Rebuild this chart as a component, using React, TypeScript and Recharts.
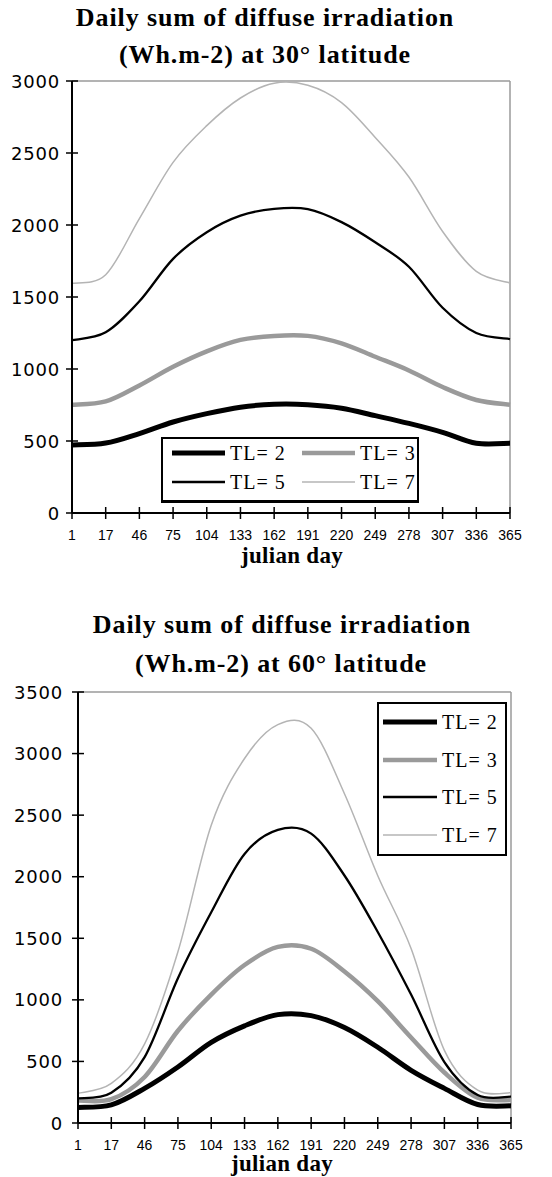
import React from 'react';
import { LineChart, Line, XAxis, YAxis, Legend, ReferenceLine } from 'recharts';

// ---- data ----
const days = ['1', '17', '46', '75', '104', '133', '162', '191', '220', '249', '278', '307', '336', '365'];
const seriesNames = ['TL= 2', 'TL= 3', 'TL= 5', 'TL= 7'];

const lat30TL2 = [472, 486, 552, 632, 690, 735, 755, 752, 728, 676, 622, 560, 484, 484];
const lat30TL3 = [752, 775, 886, 1016, 1123, 1202, 1230, 1230, 1178, 1085, 990, 875, 785, 752];
const lat30TL5 = [1200, 1255, 1470, 1765, 1950, 2065, 2112, 2110, 2020, 1880, 1710, 1425, 1250, 1208];
const lat30TL7 = [1595, 1655, 2045, 2435, 2690, 2882, 2985, 2970, 2850, 2608, 2333, 1955, 1678, 1598];

const lat60TL2 = [126, 147, 281, 455, 655, 789, 880, 872, 775, 615, 428, 281, 150, 139];
const lat60TL3 = [182, 193, 374, 749, 1043, 1283, 1430, 1415, 1230, 989, 695, 410, 205, 187];
const lat60TL5 = [200, 246, 535, 1176, 1711, 2185, 2380, 2350, 2010, 1551, 1043, 495, 227, 214];
const lat60TL7 = [241, 321, 642, 1390, 2418, 2960, 3235, 3205, 2674, 2008, 1417, 590, 267, 246];

const yTicks30 = [0, 500, 1000, 1500, 2000, 2500, 3000];
const yTicks60 = [0, 500, 1000, 1500, 2000, 2500, 3000, 3500];

const title30 = ['Daily sum of diffuse irradiation', '(Wh.m-2) at 30° latitude'];
const title60 = ['Daily sum of diffuse irradiation', '(Wh.m-2) at 60° latitude'];
const xTitle = 'julian day';

// ---- styles ----
const keys = ['tl2', 'tl3', 'tl5', 'tl7'];
const seriesStyle = [
  { stroke: '#000000', width: 5 },
  { stroke: '#9a9a9a', width: 4.5 },
  { stroke: '#000000', width: 2.3 },
  { stroke: '#b4b4b4', width: 1.5 },
];

const build = (a: number[], b: number[], c: number[], d: number[]) =>
  days.map((day, i) => ({ day, tl2: a[i], tl3: b[i], tl5: c[i], tl7: d[i] }));

const data30 = build(lat30TL2, lat30TL3, lat30TL5, lat30TL7);
const data60 = build(lat60TL2, lat60TL3, lat60TL5, lat60TL7);

// Excel-like smoothed line (Catmull-Rom through the points)
const smoothCurve = (context: any) => {
  let pts: number[][] = [];
  return {
    areaStart() {},
    areaEnd() {},
    lineStart() { pts = []; },
    lineEnd() {
      const n = pts.length;
      if (!n) return;
      context.moveTo(pts[0][0], pts[0][1]);
      for (let i = 0; i < n - 1; i++) {
        const p0 = pts[i - 1] || pts[i];
        const p1 = pts[i];
        const p2 = pts[i + 1];
        const p3 = pts[i + 2] || p2;
        context.bezierCurveTo(
          p1[0] + (p2[0] - p0[0]) / 6, p1[1] + (p2[1] - p0[1]) / 6,
          p2[0] - (p3[0] - p1[0]) / 6, p2[1] - (p3[1] - p1[1]) / 6,
          p2[0], p2[1]
        );
      }
    },
    point(x: number, y: number) { pts.push([+x, +y]); },
  };
};

const XTick = (props: any) => {
  const { x, y, payload } = props;
  return (
    <g>
      <line x1={x} x2={x} y1={y - 6} y2={y + 6} stroke="#000" strokeWidth={1.5} />
      <text x={x} y={y + 27} textAnchor="middle" fontFamily="Liberation Sans, Arial, sans-serif" fontSize={14} fill="#000">
        {payload.value}
      </text>
    </g>
  );
};

const makeYTick = (gap: number) => (props: any) => {
  const { x, y, payload } = props;
  return (
    <g>
      <line x1={x - 6} x2={x + 6} y1={y} y2={y} stroke="#000" strokeWidth={1.5} />
      <text x={x - gap} y={y + 6.5} textAnchor="end" fontFamily="DejaVu Sans, sans-serif" fontSize={18} letterSpacing={0.8} fill="#000">
        {payload.value}
      </text>
    </g>
  );
};

const Legend30 = () => {
  const pos = [
    { x: 9, y: 14 },
    { x: 139, y: 14 },
    { x: 9, y: 43 },
    { x: 139, y: 43 },
  ];
  return (
    <div style={{ width: 258, height: 66, border: '2px solid #000', borderBottomWidth: 3, boxSizing: 'border-box', background: '#fff' }}>
      <svg width={254} height={61} style={{ display: 'block' }}>
        {seriesNames.map((n, i) => (
          <g key={n}>
            <line x1={pos[i].x} x2={pos[i].x + 53} y1={pos[i].y} y2={pos[i].y} stroke={seriesStyle[i].stroke} strokeWidth={seriesStyle[i].width} />
            <text x={pos[i].x + 58} y={pos[i].y + 7} fontFamily="Liberation Serif, serif" fontSize={20} letterSpacing={1} fill="#000">{n}</text>
          </g>
        ))}
      </svg>
    </div>
  );
};

const Legend60 = () => {
  const ys = [18, 56, 93, 131];
  return (
    <div style={{ width: 130, height: 154, border: '2px solid #000', boxSizing: 'border-box', background: '#fff' }}>
      <svg width={126} height={150} style={{ display: 'block' }}>
        {seriesNames.map((n, i) => (
          <g key={n}>
            <line x1={4} x2={58} y1={ys[i]} y2={ys[i]} stroke={seriesStyle[i].stroke} strokeWidth={seriesStyle[i].width} />
            <text x={63} y={ys[i] + 7} fontFamily="Liberation Serif, serif" fontSize={20} letterSpacing={1} fill="#000">{n}</text>
          </g>
        ))}
      </svg>
    </div>
  );
};

const titleFont = { fontFamily: "'Liberation Serif', 'Times New Roman', serif", fontWeight: 700 as const };

export default function App() {
  return (
    <div style={{ position: 'absolute', left: 0, top: 0, width: 552, height: 1177, background: '#fff', overflow: 'hidden' }}>
      <div style={{ position: 'absolute', left: 0, top: 0 }}>
        <LineChart width={552} height={580} data={data30} margin={{ top: 81, right: 42, bottom: 0, left: 0 }}>
          <XAxis dataKey="day" interval={0} tickSize={0} tickMargin={0} height={67} padding={{ left: 0, right: 0 }}
            axisLine={{ stroke: '#000', strokeWidth: 2 }} tickLine={false} tick={<XTick />} />
          <YAxis type="number" domain={[0, 3000]} ticks={yTicks30} interval={0} width={72} tickSize={0} tickMargin={0}
            axisLine={{ stroke: '#000', strokeWidth: 2 }} tickLine={false} tick={makeYTick(12)} />
          <ReferenceLine y={3000} stroke="#9a9a9a" strokeWidth={1.5} />
          <ReferenceLine x="365" stroke="#9a9a9a" strokeWidth={1.5} />
          <Legend layout="horizontal" verticalAlign="middle" align="center" content={<Legend30 />}
            wrapperStyle={{ left: 161, top: 437, width: 258, height: 66 }} />
          {keys.map((k, i) => (
            <Line key={k} dataKey={k} type={smoothCurve as any} stroke={seriesStyle[i].stroke} strokeWidth={seriesStyle[i].width}
              dot={false} activeDot={false} isAnimationActive={false} />
          ))}
        </LineChart>
      </div>
      <div style={{ position: 'absolute', left: 0, top: 600 }}>
        <LineChart width={552} height={577} data={data60} margin={{ top: 92, right: 41, bottom: 0, left: 0 }}>
          <XAxis dataKey="day" interval={0} tickSize={0} tickMargin={0} height={54} padding={{ left: 0, right: 0 }}
            axisLine={{ stroke: '#000', strokeWidth: 2 }} tickLine={false} tick={<XTick />} />
          <YAxis type="number" domain={[0, 3500]} ticks={yTicks60} interval={0} width={78} tickSize={0} tickMargin={0}
            axisLine={{ stroke: '#000', strokeWidth: 2 }} tickLine={false} tick={makeYTick(15)} />
          <ReferenceLine y={3500} stroke="#9a9a9a" strokeWidth={1.5} />
          <ReferenceLine x="365" stroke="#9a9a9a" strokeWidth={1.5} />
          <Legend layout="horizontal" verticalAlign="middle" align="center" content={<Legend60 />}
            wrapperStyle={{ left: 377, top: 102, width: 130, height: 154 }} />
          {keys.map((k, i) => (
            <Line key={k} dataKey={k} type={smoothCurve as any} stroke={seriesStyle[i].stroke} strokeWidth={seriesStyle[i].width}
              dot={false} activeDot={false} isAnimationActive={false} />
          ))}
        </LineChart>
      </div>
      <svg width={552} height={1177} style={{ position: 'absolute', left: 0, top: 0, pointerEvents: 'none' }}>
        <text x={265} y={26} textAnchor="middle" fontSize={26} letterSpacing={0.9} {...titleFont}>{title30[0]}</text>
        <text x={265} y={63} textAnchor="middle" fontSize={26} letterSpacing={0.9} {...titleFont}>{title30[1]}</text>
        <text x={292} y={563} textAnchor="middle" fontSize={23} letterSpacing={0.3} {...titleFont}>{xTitle}</text>
        <text x={282} y={633} textAnchor="middle" fontSize={26} letterSpacing={0.9} {...titleFont}>{title60[0]}</text>
        <text x={281} y={672} textAnchor="middle" fontSize={26} letterSpacing={0.9} {...titleFont}>{title60[1]}</text>
        <text x={282} y={1171} textAnchor="middle" fontSize={23} letterSpacing={0.3} {...titleFont}>{xTitle}</text>
      </svg>
    </div>
  );
}
